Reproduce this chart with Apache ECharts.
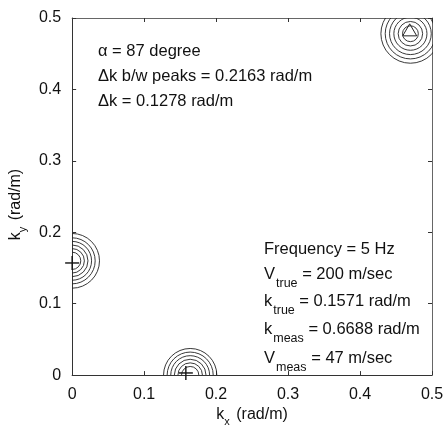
<!DOCTYPE html>
<html>
<head>
<meta charset="utf-8">
<script src="https://cdn.jsdelivr.net/npm/echarts@6/dist/echarts.min.js"></script>
<style>html,body{margin:0;padding:0;background:#fff;}#c{width:448px;height:432px;}</style>
</head>
<body>
<div id="c"></div>
<script>
// ---- data ----
const xTickLabels = ['0', '0.1', '0.2', '0.3', '0.4', '0.5'];
const yTickLabels = ['0', '0.1', '0.2', '0.3', '0.4', '0.5'];
// contour peak centres (kx, ky)
const peakCenters = [[0.470, 0.478], [0.0, 0.160], [0.164, 0.0]];
// contour ring radii (rad/m) for each peak
const ringRadii = [
  [0.011, 0.017, 0.023, 0.029, 0.035, 0.041],
  [0.012, 0.017, 0.022, 0.027, 0.032, 0.038],
  [0.012, 0.017, 0.022, 0.027, 0.032, 0.037]
];
const plusMarks = [[0.0, 0.157], [0.158, 0.003]];
const triangleMarks = [[0.469, 0.482]];
const annoTopLines = ['α = 87 degree', 'Δk b/w peaks = 0.2163 rad/m', 'Δk = 0.1278 rad/m'];
const annoRight = [
  ['Frequency = 5 Hz', '', ''],
  ['V', 'true', ' = 200 m/sec'],
  ['k', 'true', ' = 0.1571 rad/m'],
  ['k', 'meas', ' = 0.6688 rad/m'],
  ['V', 'meas', ' = 47 m/sec']
];

// ---- build ----
const ringData = [];
peakCenters.forEach((c, i) => ringRadii[i].forEach(r => ringData.push([c[0], c[1], r])));

const FONT = 'Arial, sans-serif';
const MAIN = 16.5, SUB = 12.5;
const mctx = document.createElement('canvas').getContext('2d');
function tw(t, size) { mctx.font = size + 'px ' + FONT; return mctx.measureText(t).width; }

const chart = echarts.init(document.getElementById('c'), null, {renderer: 'canvas'});

const graphics = [];
const topY = [51, 76, 101];
annoTopLines.forEach((t, i) => {
  graphics.push({type: 'text', x: 98, y: topY[i],
    style: {text: t, fontSize: MAIN, fontFamily: FONT, fill: '#111', verticalAlign: 'middle', align: 'left'}});
});
const rightY = [249, 274, 301, 329, 358];
annoRight.forEach((a, i) => {
  let x = 264;
  const y = rightY[i];
  graphics.push({type: 'text', x: x, y: y,
    style: {text: a[0], fontSize: MAIN, fontFamily: FONT, fill: '#111', verticalAlign: 'middle', align: 'left'}});
  if (a[1]) {
    x += tw(a[0], MAIN) + 1;
    graphics.push({type: 'text', x: x, y: y + 10,
      style: {text: a[1], fontSize: SUB, fontFamily: FONT, fill: '#111', verticalAlign: 'middle', align: 'left'}});
    x += tw(a[1], SUB);
    graphics.push({type: 'text', x: x, y: y,
      style: {text: a[2], fontSize: MAIN, fontFamily: FONT, fill: '#111', verticalAlign: 'middle', align: 'left'}});
  }
});

function axisBase(lineColor) {
  return {
    type: 'value', min: 0, max: 0.5, interval: 0.1,
    axisLine: {show: true, onZero: false, lineStyle: {color: lineColor, width: 1}},
    axisTick: {show: true, inside: true, length: 4, lineStyle: {color: '#333'}},
    splitLine: {show: false}
  };
}
const nameRich = {
  m: {fontSize: 16, fontFamily: FONT, color: '#111', lineHeight: 18, verticalAlign: 'top'},
  s: {fontSize: 11, fontFamily: FONT, color: '#111', lineHeight: 12, padding: [9, 2, 0, 0], verticalAlign: 'top'}
};

const option = {
  animation: false,
  backgroundColor: '#fff',
  grid: {left: 64, right: 16, top: 18, bottom: 46, containLabel: false},
  xAxis: [
    Object.assign(axisBase('#333'), {
      position: 'bottom',
      axisLabel: {fontSize: 16, fontFamily: FONT, color: '#111', margin: 11,
        formatter: (v) => xTickLabels[Math.round(v * 10)]},
      name: '{m|k}{s|x}{m| (rad/m)}', nameLocation: 'middle', nameGap: 29,
      nameTextStyle: {rich: nameRich}
    }),
    Object.assign(axisBase('#666'), {position: 'top', axisLabel: {show: false}})
  ],
  yAxis: [
    Object.assign(axisBase('#333'), {
      position: 'left',
      axisLabel: {fontSize: 16, fontFamily: FONT, color: '#111', margin: 11,
        formatter: (v) => yTickLabels[Math.round(v * 10)]},
      name: '{m|k}{s|y}{m| (rad/m)}', nameLocation: 'middle', nameGap: 44, nameRotate: 90,
      nameTextStyle: {rich: nameRich, padding: [0, 16, 0, 0]}
    }),
    Object.assign(axisBase('#666'), {position: 'right', axisLabel: {show: false}})
  ],
  graphic: graphics,
  series: [
    {
      type: 'custom', name: 'contours', clip: true,
      data: ringData,
      renderItem: function (params, api) {
        const c = api.coord([api.value(0), api.value(1)]);
        const s = api.size([api.value(2), api.value(2)]);
        return {type: 'circle', shape: {cx: c[0], cy: c[1], r: s[0]},
          style: {fill: 'none', stroke: '#222', lineWidth: 0.9}};
      }
    },
    {
      type: 'custom', name: 'plus', clip: false,
      data: plusMarks,
      renderItem: function (params, api) {
        const c = api.coord([api.value(0), api.value(1)]);
        const h = 7;
        return {type: 'group', children: [
          {type: 'line', shape: {x1: c[0] - h, y1: c[1], x2: c[0] + h, y2: c[1]}, style: {stroke: '#111', lineWidth: 1.4}},
          {type: 'line', shape: {x1: c[0], y1: c[1] - h, x2: c[0], y2: c[1] + h}, style: {stroke: '#111', lineWidth: 1.4}}
        ]};
      }
    },
    {
      type: 'custom', name: 'triangle', clip: false,
      data: triangleMarks,
      renderItem: function (params, api) {
        const c = api.coord([api.value(0), api.value(1)]);
        return {type: 'polygon', shape: {points: [[c[0], c[1] - 7], [c[0] + 7, c[1] + 5], [c[0] - 7, c[1] + 5]]},
          style: {fill: 'none', stroke: '#222', lineWidth: 1}};
      }
    }
  ]
};
chart.setOption(option);
</script>
</body>
</html>
